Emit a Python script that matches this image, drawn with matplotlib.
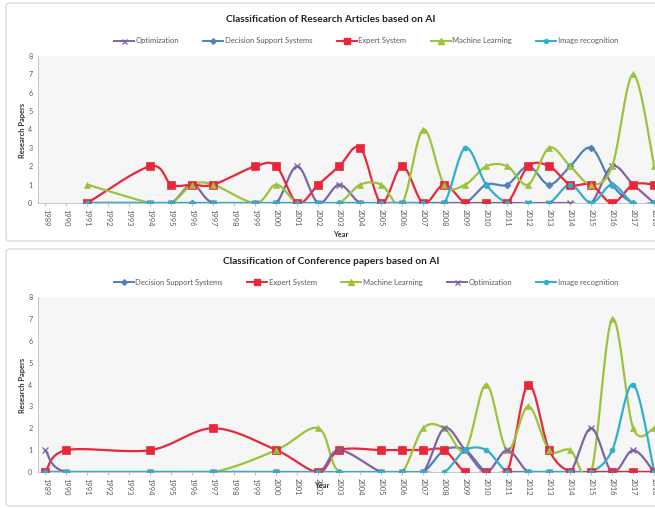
import numpy as np
import matplotlib
matplotlib.use("Agg")
import matplotlib.pyplot as plt
from matplotlib.lines import Line2D
from matplotlib.patches import FancyBboxPatch

plt.rcParams['font.family'] = ['Lato', 'DejaVu Sans']

# ---------------- data ----------------
tick_years = list(range(1989, 2019))

years_top = [1991, 1994, 1995, 1996, 1997, 1999, 2000, 2001, 2002, 2003, 2004, 2005, 2006,
             2007, 2008, 2009, 2010, 2011, 2012, 2013, 2014, 2015, 2016, 2017, 2018]
opt_top = [0, 0, 0, 1, 0, 0, 0, 2, 0, 1, 0, 0, 0, 0, 0, 0, 0, 0, 0, 0, 0, 0, 2, 1, 0]
dss_top = [0, 0, 0, 0, 0, 0, 0, 0, 0, 0, 0, 0, 0, 0, 0, 0, 1, 1, 2, 1, 2, 3, 1, 0, 0]
exp_top = [0, 2, 1, 1, 1, 2, 2, 0, 1, 2, 3, 0, 2, 0, 1, 0, 0, 0, 2, 2, 1, 1, 0, 1, 1]
ml_top = [1, 0, 0, 1, 1, 0, 1, 0, 0, 0, 1, 1, 0, 4, 1, 1, 2, 2, 1, 3, 2, 1, 2, 7, 2]
img_top = [0, 0, 0, 0, 0, 0, 0, 0, 0, 0, 0, 0, 0, 0, 0, 3, 1, 0, 0, 0, 1, 0, 1, 0, 0]

years_bot = [1989, 1990, 1994, 1997, 2000, 2002, 2003, 2005, 2006, 2007, 2008, 2009, 2010,
             2011, 2012, 2013, 2014, 2015, 2016, 2017, 2018]
dss_bot = [0, 0, 0, 0, 0, 0, 0, 0, 0, 0, 1, 1, 0, 0, 0, 0, 0, 0, 0, 0, 0]
exp_bot = [0, 1, 1, 2, 1, 0, 1, 1, 1, 1, 1, 0, 0, 0, 4, 1, 0, 0, 0, 0, 0]
ml_bot = [0, 0, 0, 0, 1, 2, 0, 0, 0, 2, 2, 1, 4, 1, 3, 1, 1, 0, 7, 2, 2]
opt_bot = [1, 0, 0, 0, 0, 0, 1, 0, 0, 0, 2, 1, 0, 1, 0, 0, 0, 2, 0, 1, 0]
img_bot = [0, 0, 0, 0, 0, 0, 0, 0, 0, 0, 0, 1, 1, 0, 0, 0, 0, 0, 1, 4, 0]

title_top = "Classification of Research Articles based on AI"
title_bot = "Classification of Conference papers based on AI"

# ---------------- styles ----------------
STY = {
    "Optimization": dict(color="#8064A2", marker="x", ms=4.5, mew=1.0),
    "Decision Support Systems": dict(color="#4F81BD", marker="D", ms=3.5, mew=0.5),
    "Expert System": dict(color="#E8283A", marker="s", ms=5.2, mew=0.5),
    "Machine Learning": dict(color="#9BC33C", marker="^", ms=4.8, mew=0.5),
    "Image recognition": dict(color="#2FAFD0", marker="o", ms=3.6, mew=0.5),
}

W, H = 655, 508
fig = plt.figure(figsize=(W / 100, H / 100), dpi=100)


def smooth(x, y, n=24):
    x = np.asarray(x, float)
    y = np.asarray(y, float)
    P = np.column_stack([x, y])
    out = [P[0]]
    m = len(P)
    t = np.linspace(0, 1, n)[1:]
    for i in range(m - 1):
        p0 = P[max(i - 1, 0)]
        p1 = P[i]
        p2 = P[i + 1]
        p3 = P[min(i + 2, m - 1)]
        c1 = p1 + (p2 - p0) / 6.0
        c2 = p2 - (p3 - p1) / 6.0
        b = ((1 - t) ** 3)[:, None] * p1 + (3 * (1 - t) ** 2 * t)[:, None] * c1 \
            + (3 * (1 - t) * t ** 2)[:, None] * c2 + (t ** 3)[:, None] * p2
        out.extend(b)
    out = np.array(out)
    return out[:, 0], out[:, 1]


def px_rect(x0, y0, x1, y1):
    return [x0 / W, 1 - y1 / H, (x1 - x0) / W, (y1 - y0) / H]


def panel(rect, years, series, title, title_y, legend_y, ylab_y, year_xy, box):
    bx0, by0, bx1, by1 = box
    fig.patches.append(FancyBboxPatch((bx0 / W, 1 - by1 / H), (bx1 - bx0) / W, (by1 - by0) / H,
                                      boxstyle="round,pad=0,rounding_size=0.006",
                                      transform=fig.transFigure, fc="white", ec="#d0d0d0",
                                      lw=0.8, zorder=-5))
    ax = fig.add_axes(rect)
    ax.set_facecolor("#f6f6f6")
    for name, vals in series:
        s = STY[name]
        xs, ys = smooth(years, vals)
        ax.plot(xs, ys, color=s["color"], lw=1.6, solid_capstyle="round", zorder=2)
        ax.plot(years, vals, ls="none", marker=s["marker"], ms=s["ms"],
                mfc=s["color"], mec=s["color"], mew=s["mew"], zorder=3)
    ax.set_xlim(1988.65, 2018.8)
    ax.set_ylim(0, 8)
    ax.set_yticks(range(0, 9))
    ax.set_xticks(tick_years)
    ax.set_xticklabels([str(y) for y in tick_years], rotation=-90, fontsize=5.4, color="#595959")
    ax.tick_params(axis="y", length=0, labelsize=5.2, labelcolor="#595959", pad=4)
    ax.tick_params(axis="x", length=2, color="#bfbfbf", pad=2)
    for sp in ["top", "right"]:
        ax.spines[sp].set_visible(False)
    ax.spines["left"].set_color("#bfbfbf")
    ax.spines["bottom"].set_color("#bfbfbf")
    ax.spines["left"].set_linewidth(0.6)
    ax.spines["bottom"].set_linewidth(0.6)

    fig.text(331 / W, 1 - title_y / H, title, ha="center", va="center",
             fontsize=7.3, fontweight="bold", color="#222222")
    handles = [Line2D([], [], color=STY[n]["color"], lw=1.4, marker=STY[n]["marker"],
                      ms=STY[n]["ms"] * 0.8, mfc=STY[n]["color"], mec=STY[n]["color"])
               for n, _ in series]
    fig.legend(handles, [n for n, _ in series], loc="center",
               bbox_to_anchor=(366 / W, 1 - legend_y / H), ncol=5, frameon=False,
               fontsize=5.5, handlelength=2.6, columnspacing=3.2, handletextpad=0.2,
               labelcolor="#595959")
    fig.text(22 / W, 1 - ylab_y / H, "Research Papers", rotation=90, ha="center",
             va="center", fontsize=5.4, fontweight="bold", color="#333333")
    fig.text(year_xy[0] / W, 1 - year_xy[1] / H, "Year", ha="center", va="center",
             fontsize=5.4, fontweight="bold", color="#333333")
    return ax


panel(px_rect(38, 56, 671, 203), years_top,
      [("Optimization", opt_top), ("Decision Support Systems", dss_top),
       ("Expert System", exp_top), ("Machine Learning", ml_top),
       ("Image recognition", img_top)],
      title_top, 19, 41, 130, (341, 234), (6, 3, 720, 241))

panel(px_rect(38, 297, 671, 472), years_bot,
      [("Decision Support Systems", dss_bot), ("Expert System", exp_bot),
       ("Machine Learning", ml_bot), ("Optimization", opt_bot),
       ("Image recognition", img_bot)],
      title_bot, 262, 282, 385, (322, 486), (6, 249, 720, 506))

fig.savefig("out.png", dpi=100)
